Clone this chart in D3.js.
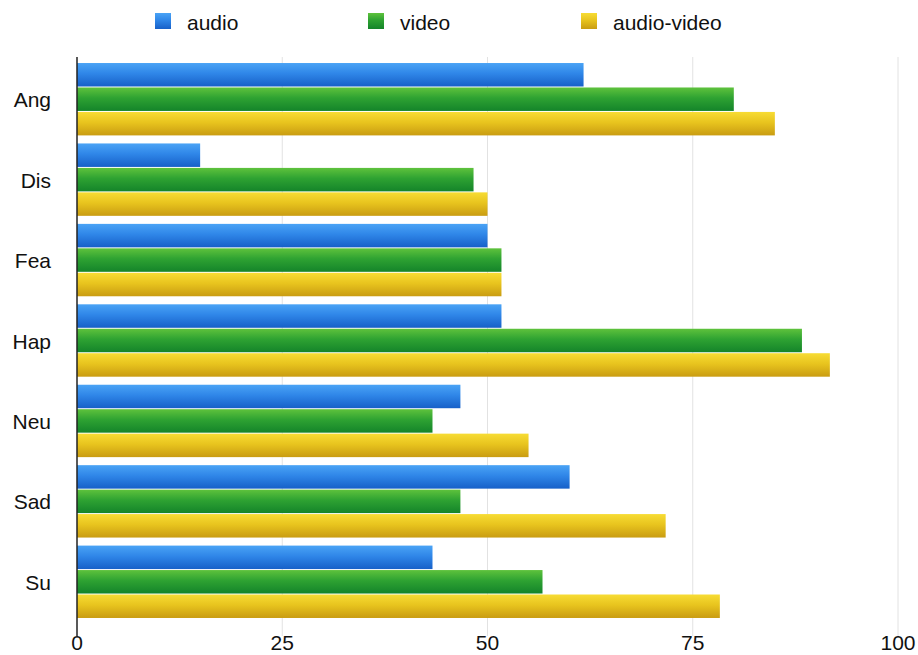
<!DOCTYPE html>
<html>
<head>
<meta charset="utf-8">
<script src="https://cdn.jsdelivr.net/npm/d3@7"></script>
<style>
  html, body { margin: 0; padding: 0; background: #fff; }
  svg { display: block; font-family: "Liberation Sans", Arial, Helvetica, sans-serif; }
</style>
</head>
<body>
<svg id="chart" width="918" height="655"></svg>
<script>
const categories = ["Ang", "Dis", "Fea", "Hap", "Neu", "Sad", "Su"];
const seriesNames = ["audio", "video", "audio-video"];
const audio      = [61.7, 15.0, 50.0, 51.7, 46.7, 60.0, 43.3];
const video      = [80.0, 48.3, 51.7, 88.3, 43.3, 46.7, 56.7];
const audioVideo = [85.0, 50.0, 51.7, 91.7, 55.0, 71.7, 78.3];
const xTicks = [0, 25, 50, 75, 100];

const seriesValues = [audio, video, audioVideo];
const gradStops = [
  ["#4aa3f5", "#2f86e8", "#1760c8"],
  ["#5ec23c", "#2ea232", "#14842a"],
  ["#f7dc34", "#e8c41e", "#c99c12"]
];

const svg = d3.select("#chart");
const defs = svg.append("defs");
seriesNames.forEach((s, i) => {
  const g = defs.append("linearGradient").attr("id", "grad" + i)
    .attr("x1", 0).attr("y1", 0).attr("x2", 0).attr("y2", 1);
  g.append("stop").attr("offset", "0%").attr("stop-color", gradStops[i][0]);
  g.append("stop").attr("offset", "45%").attr("stop-color", gradStops[i][1]);
  g.append("stop").attr("offset", "100%").attr("stop-color", gradStops[i][2]);
});

const x = d3.scaleLinear().domain([0, 100]).range([77, 898]);
const y = d3.scaleBand().domain(categories).range([59, 622]).paddingInner(0.1).paddingOuter(0.05);
const yInner = d3.scaleBand().domain(seriesNames).range([0, y.bandwidth()]).paddingInner(0.04);

// gridlines
svg.append("g").selectAll("line").data(xTicks.filter(t => t > 0)).join("line")
  .attr("x1", d => x(d)).attr("x2", d => x(d))
  .attr("y1", 57).attr("y2", 636)
  .attr("stroke", "#e2e2e2").attr("stroke-width", 1);

// bars
const groups = svg.append("g").selectAll("g").data(categories).join("g")
  .attr("transform", d => `translate(0,${y(d)})`);
groups.selectAll("rect")
  .data((c, ci) => seriesNames.map((s, si) => ({ s, si, v: seriesValues[si][ci] })))
  .join("rect")
  .attr("x", x(0))
  .attr("y", d => yInner(d.s))
  .attr("width", d => x(d.v) - x(0))
  .attr("height", yInner.bandwidth())
  .attr("fill", d => `url(#grad${d.si})`);

// axis line
svg.append("line").attr("x1", x(0)).attr("x2", x(0)).attr("y1", 57).attr("y2", 636)
  .attr("stroke", "#222").attr("stroke-width", 1.5);

// y labels
svg.append("g").selectAll("text").data(categories).join("text")
  .attr("x", 51).attr("y", d => y(d) + y.bandwidth() / 2 + 8)
  .attr("text-anchor", "end")
  .attr("font-size", 21).attr("fill", "#111").text(d => d);

// x tick labels
svg.append("g").selectAll("text").data(xTicks).join("text")
  .attr("x", d => x(d)).attr("y", 650).attr("text-anchor", "middle")
  .attr("font-size", 21).attr("fill", "#111").text(d => d);

// legend
const legendX = [155, 368, 581];
const lg = svg.append("g").selectAll("g").data(seriesNames).join("g")
  .attr("transform", (d, i) => `translate(${legendX[i]},13)`);
lg.append("rect").attr("width", 16).attr("height", 16)
  .attr("fill", (d, i) => `url(#grad${i})`);
lg.append("text").attr("x", 32).attr("y", 17)
  .attr("font-size", 21).attr("fill", "#111").text(d => d);
</script>
</body>
</html>
